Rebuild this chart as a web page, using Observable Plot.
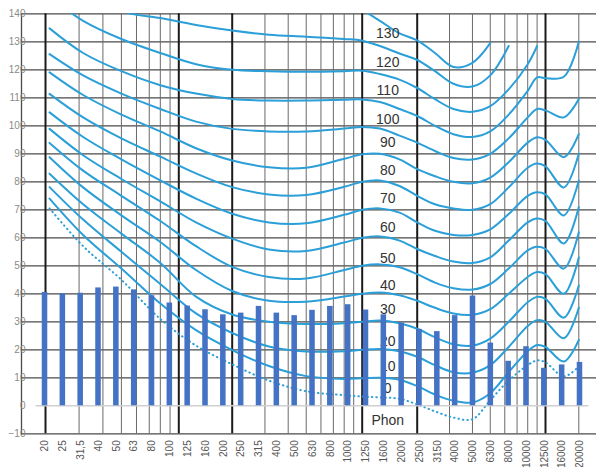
<!DOCTYPE html>
<html><head><meta charset="utf-8">
<script src="https://cdn.jsdelivr.net/npm/d3@7"></script>
<script src="https://cdn.jsdelivr.net/npm/@observablehq/plot@0.6"></script>
<style>
body{margin:0;background:#fff;}
#chart{position:relative;width:596px;height:467px;font-family:"Liberation Sans",Arial,sans-serif;}
#chart svg{position:absolute;left:0;top:0;}
</style></head><body><div id="chart"></div>
<script>
// ---- bar chart data (1/3-octave bands) ----
const bands = ["20","25","31,5","40","50","63","80","100","125","160","200","250","315","400","500","630","800","1000","1250","1600","2000","2500","3150","4000","5000","6300","8000","10000","12500","16000","20000"];
const bandLevels = [40.5,40,40.2,42.1,42.4,41.4,39.3,36.7,35.6,34.3,32.5,33.1,35.5,33.1,32.2,34.1,35.5,36.1,34.2,32.5,29.6,27.3,26.5,32.2,39.2,22.4,15.9,21.1,13.4,14.6,15.5];
const yTicks = [-10,0,10,20,30,40,50,60,70,80,90,100,110,120,130,140];

// ---- equal-loudness contour sheet (dB SPL per frequency, null = not drawn) ----
const contourFreqs = [21,31.5,50,80,125,200,315,500,800,1000,1250,1600,2000,2500,3150,4000,5000,6300,8000,9000,10000,12500,15000];
const phon0   = [70.5,57,45,31,21.5,14.8,9,5.2,3.8,3.3,3.0,2.5,0.5,-2,-4.2,-4.8,2,9,14.5,16.2,15.5,10.5,14];
const phon10  = [74,61,49,36.5,27,19.9,14.2,10.6,9.6,9.8,10,9.3,7,4,1.8,1.2,4.5,12,19.5,21.7,21,15.8,23.5];
const phon20  = [78.1,66.5,55,43.5,33,26,21.2,19.4,19.5,20,20.3,19.5,17.5,14.5,12,11.8,14.5,21,28.5,30.6,30,24.1,35];
const phon30  = [82.9,72,61.5,51,39,32.6,30,29.2,29.5,30,30.5,29.5,27.5,24.5,22,21.5,24,30,37,38.9,38.2,31.5,43];
const phon40  = [88.8,78,68,58.5,48.5,41,37.5,37.2,39,40,40.5,39.5,37.5,35,33,32.5,34.5,40,46,47.8,47,40,53];
const phon50  = [93.9,84,75,66,57,49.6,46,45.5,48.5,50,50.5,49.5,47,44,42,41.5,43.5,49,55.5,56.8,56,49,62];
const phon60  = [98.9,89.5,81,73,65.5,59.7,55.8,55.3,58.3,60,60.5,59,56,53.5,51.5,51,53,59,65.5,66.9,66,58,71];
const phon70  = [104.8,96,88,80.5,74,68.6,65.5,65.2,68.2,70,70.5,69,65.5,62.5,61,61,63,68.5,75,76.3,75.5,68,80.5];
const phon80  = [111.4,103,95.5,89,83,78.1,75.5,75.3,78.2,80,80.5,78.5,75,72,70.5,70,72,78,85,86.5,85.5,78,90];
const phon90  = [119.1,111,104,98,92,87.6,85.2,85,88.2,89.8,90,88,84.5,82,80,79.5,81.5,87,94,95.9,95,88.8,97];
const phon100 = [125.6,118,111.5,106,101.5,98.9,98,98,99,99.6,99,96.5,94,91,88.5,88,90,95.5,103,106,105.5,103,109.6];
const phon110 = [134.8,126,119.5,114.5,111.5,109.6,109,109,109.3,109.4,108.5,106,103.5,100,97,96,98,104,112.5,117.3,117,117.5,130];
const phon120 = [146,137.5,131,126,122,120,119.5,119.3,119.5,119.7,118.5,116.5,113.5,109.5,106,105,107,113,122,128.5,null,null,null];
const phon130 = [null,150,141,138.5,136,134,132.5,131.8,131,130.4,128.5,125.8,123.5,119.5,115,114,118,128.5,null,null,null,null,null];
const phon140 = [null,null,null,null,null,null,null,null,null,141.5,137.5,133,130.5,126,121,122.5,129.5,null,null,null,null,null,null];
const phonLevels = [0,10,20,30,40,50,60,70,80,90,100,110,120,130,140];
const phonSeries = [phon0,phon10,phon20,phon30,phon40,phon50,phon60,phon70,phon80,phon90,phon100,phon110,phon120,phon130,phon140];
const phonLabels = ["130","120","110","100","90","80","70","60","50","40","30","20","10","0","Phon"];
const phonLabelDb = [132.9,122.7,112.6,102.2,94.2,84.1,74,63.5,52.6,43.1,34.4,22.9,14,6.3,-5.2];
const phonLabelFreq = 1380;
const sheetHLines = [-10,10,20,30,40,50,60,70,80,90,100,110,120,130,140];
const sheetMinorF = [30,40,50,60,70,80,90,300,400,500,600,700,800,900,3000,4000,5000,6000,7000,8000,9000,15000];
const sheetMajorF = [20,100,200,1000,2000,10000];
const sheetKnotF = [20,100,200,1000,2000,10000,15000];

// build tables
const contourRows = [];
phonSeries.forEach((vals, i) => vals.forEach((v, j) => {
  if (v != null) contourRows.push({phon: phonLevels[i], f: contourFreqs[j], db: v});
}));
const solidRows = contourRows.filter(d => d.phon > 0);
const dottedRows = contourRows.filter(d => d.phon === 0);
const labelRows = phonLabels.map((t, i) => ({t, db: phonLabelDb[i], f: phonLabelFreq}));
const barRows = bands.map((b, i) => ({band: b, v: bandLevels[i]}));

const W = 596, H = 467;
const MT = 13.3, MB = 33.7;
const blue = "#2b9fd8";

const sheet = Plot.plot({
  width: W, height: H,
  marginLeft: 21, marginRight: 0, marginTop: MT, marginBottom: MB,
  x: {type: "log", domain: sheetKnotF, range: [45, 178.3, 231.7, 361.7, 416.7, 545, 578.3], axis: null},
  y: {domain: [-10, 140], axis: null},
  marks: [
    Plot.ruleY(sheetHLines, {stroke: "#4a4a4a", strokeWidth: 1.3}),
    Plot.ruleX(sheetMinorF, {y1: -10, y2: 140, stroke: "#6a6a6a", strokeWidth: 1}),
    Plot.ruleX(sheetMajorF, {y1: -10, y2: 140, stroke: "#1a1a1a", strokeWidth: 2}),
    Plot.frame({anchor: "left", stroke: "#4a4a4a", strokeWidth: 1.3}),
    Plot.line(solidRows, {x: "f", y: "db", z: "phon", stroke: blue, strokeWidth: 2, curve: "catmull-rom", clip: true}),
    Plot.line(dottedRows, {x: "f", y: "db", stroke: blue, strokeWidth: 2, strokeDasharray: "0.5,4", strokeLinecap: "round", curve: "catmull-rom", clip: true}),
    Plot.text(labelRows, {x: "f", y: "db", text: "t", fontSize: 14, fill: "#333", fontFamily: "Liberation Sans, Arial, sans-serif"})
  ]
});

const bars = Plot.plot({
  width: W, height: H,
  marginLeft: 35.6, marginRight: 7.6, marginTop: MT, marginBottom: MB,
  style: {background: "transparent", fontFamily: "Liberation Sans, Arial, sans-serif"},
  x: {type: "band", domain: bands, paddingInner: 0.69, paddingOuter: 0.345, round: false},
  y: {domain: [-10, 140]},
  marks: [
    Plot.ruleY([0], {stroke: "#d0d0d0", strokeWidth: 1.5}),
    Plot.barY(barRows, {x: "band", y: "v", fill: "#4472c4"}),
    Plot.axisX({tickSize: 0, tickPadding: 6.5, tickRotate: -90, fontSize: 10, fill: "#555", label: null}),
    Plot.axisY({ticks: yTicks, tickSize: 0, tickPadding: 10.6, fontSize: 10, fill: "#8a8a8a", label: null})
  ]
});

const host = document.getElementById("chart");
host.appendChild(sheet);
host.appendChild(bars);
</script>
</body></html>
